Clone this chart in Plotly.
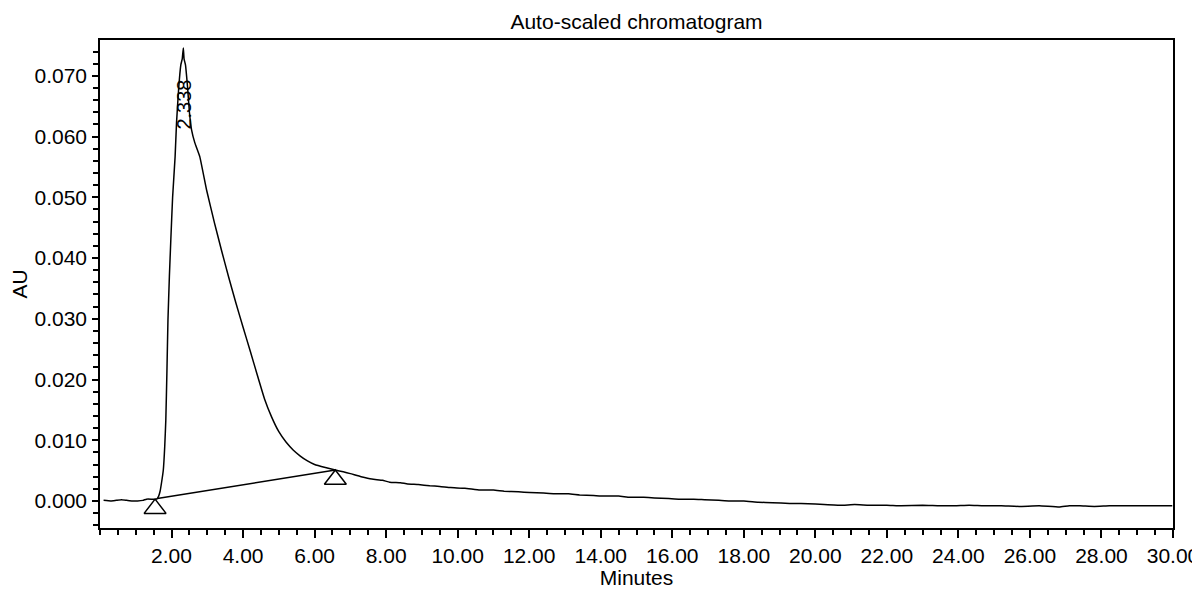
import plotly.graph_objects as go

# ---- data ----
time_min = [0.10, 0.30, 0.45, 0.60, 0.75, 0.90, 1.05, 1.20, 1.30, 1.45, 1.55, 1.60,
            1.64, 1.68, 1.72, 1.77, 1.81, 1.84, 1.87, 1.90, 1.94, 1.98, 2.03, 2.10,
            2.14, 2.20, 2.26, 2.30, 2.33, 2.35, 2.39, 2.45, 2.50, 2.56, 2.65, 2.79,
            2.98, 3.20, 3.40, 3.60, 3.80, 4.00, 4.20, 4.40, 4.60, 4.80, 5.00, 5.20,
            5.40, 5.60, 5.80, 6.00, 6.30, 6.58, 6.80, 7.00, 7.30, 7.60, 7.90,
            8.10, 8.40, 8.60, 8.90, 9.22, 9.50, 9.80, 10.20, 10.62, 11.00, 11.30, 11.70,
            12.01, 12.40, 12.70, 13.10, 13.41, 13.80, 14.10, 14.50, 14.81, 15.20,
            15.50, 15.90, 16.20, 16.60, 16.90, 17.30, 17.60, 18.00, 18.40, 18.80, 19.28,
            19.60, 20.00, 20.68, 21.10, 21.50, 22.00, 22.40, 23.00, 23.47, 23.90, 24.30,
            24.70, 25.20, 25.70, 26.26, 26.82, 27.10, 27.40, 27.80, 28.22, 28.60, 29.00,
            29.50, 29.98]
au = [0.0001, 0.0000, 0.0001, 0.0002, 0.0001, 0.0000, 0.0000, 0.0001, 0.0003, 0.0003, 0.0003, 0.0004,
      0.0008, 0.0016, 0.0030, 0.0051, 0.0090, 0.0133, 0.0210, 0.0298, 0.0370, 0.0430, 0.0500, 0.0567,
      0.0623, 0.0680, 0.0718, 0.0728, 0.0746, 0.0728, 0.0718, 0.0680, 0.0640, 0.0611, 0.0590, 0.0567,
      0.0512, 0.0458, 0.0412, 0.0368, 0.0326, 0.0286, 0.0247, 0.0207, 0.0168, 0.0138, 0.0114, 0.0097,
      0.0084, 0.0074, 0.0066, 0.0060, 0.0055, 0.0051, 0.0048, 0.0045, 0.0040, 0.0036, 0.0034,
      0.0031, 0.0030, 0.0028, 0.0027, 0.0025, 0.0024, 0.0022, 0.0021, 0.0018, 0.0018, 0.0016, 0.0015,
      0.0014, 0.0013, 0.0012, 0.0012, 0.0010, 0.0009, 0.0008, 0.0008, 0.0006, 0.0006,
      0.0005, 0.0004, 0.0003, 0.0003, 0.0002, 0.0001, 0.0000, 0.0000, -0.0002, -0.0003, -0.0004,
      -0.0004, -0.0005, -0.0007, -0.0006, -0.0007, -0.0007, -0.0008, -0.0007, -0.0008, -0.0008, -0.0007,
      -0.0008, -0.0008, -0.0009, -0.0008, -0.0010, -0.0008, -0.0008, -0.0009, -0.0008, -0.0008, -0.0008,
      -0.0008, -0.0008]

baseline_t = [1.60, 6.58]
baseline_au = [0.0004, 0.0051]

marker_t = [1.54, 6.58]
marker_au = [0.0003, 0.0051]

peak_t = 2.338
peak_label = "2.338"
peak_label_au = 0.0652

x_ticks = [2, 4, 6, 8, 10, 12, 14, 16, 18, 20, 22, 24, 26, 28, 30]
y_ticks = [0.000, 0.010, 0.020, 0.030, 0.040, 0.050, 0.060, 0.070]

# ---- layout constants (page body adds an 8px offset) ----
W, H = 1192, 581
ML, MR, MT, MB = 92, 27, 32, 61
Y_RANGE = [-0.00445, 0.0759]
X_RANGE = [0, 30]
MARKER_SIZE = 19
px_per_unit = (H - MT - MB) / (Y_RANGE[1] - Y_RANGE[0])
# triangle-up apex sits r px above the marker centre
marker_center = [v - (MARKER_SIZE / 2) / px_per_unit for v in marker_au]

FONT = "Liberation Sans, Arial, sans-serif"
fig = go.Figure()
fig.add_trace(go.Scatter(x=time_min, y=au, mode="lines",
                         line=dict(color="black", width=1.5, shape="spline", smoothing=0.3),
                         showlegend=False, hoverinfo="skip"))
fig.add_trace(go.Scatter(x=baseline_t, y=baseline_au, mode="lines",
                         line=dict(color="black", width=1.5), showlegend=False))
fig.add_trace(go.Scatter(x=marker_t, y=marker_center, mode="markers",
                         marker=dict(symbol="triangle-up-open", size=MARKER_SIZE,
                                     color="black", line=dict(color="black", width=1.5)),
                         showlegend=False))

fig.add_annotation(x=peak_t, y=peak_label_au, text=peak_label, textangle=-90,
                   showarrow=False, font=dict(family=FONT, size=20, color="black"),
                   xanchor="center", yanchor="middle")

axis_common = dict(showline=True, linecolor="black", linewidth=1.5, mirror=True,
                   ticks="outside", tickcolor="black", tickwidth=1.5,
                   showgrid=False, zeroline=False, automargin=False,
                   tickfont=dict(family=FONT, size=21, color="black"))

fig.update_xaxes(range=X_RANGE, tickvals=x_ticks, tickformat=".2f", ticklen=8,
                 minor=dict(tick0=0, dtick=0.5, ticks="outside", ticklen=5,
                            tickcolor="black", tickwidth=1.5),
                 title=dict(text="Minutes", font=dict(family=FONT, size=21, color="black"),
                            standoff=10),
                 **axis_common)
fig.update_yaxes(range=Y_RANGE, tickvals=y_ticks, tickformat=".3f", ticklen=6,
                 ticklabelstandoff=1,
                 minor=dict(tick0=0, dtick=0.002, ticks="outside", ticklen=5,
                            tickcolor="black", tickwidth=1.5),
                 title=dict(text="AU", font=dict(family=FONT, size=21, color="black"),
                            standoff=4),
                 **axis_common)

fig.update_layout(
    width=W, height=H,
    margin=dict(l=ML, r=MR, t=MT, b=MB),
    paper_bgcolor="white", plot_bgcolor="white",
    title=dict(text="Auto-scaled chromatogram", x=(ML + (W - ML - MR) / 2) / W,
               xanchor="center", y=1 - 14 / H, yanchor="middle",
               font=dict(family=FONT, size=21, color="black")),
)

fig.write_html("out.html")
